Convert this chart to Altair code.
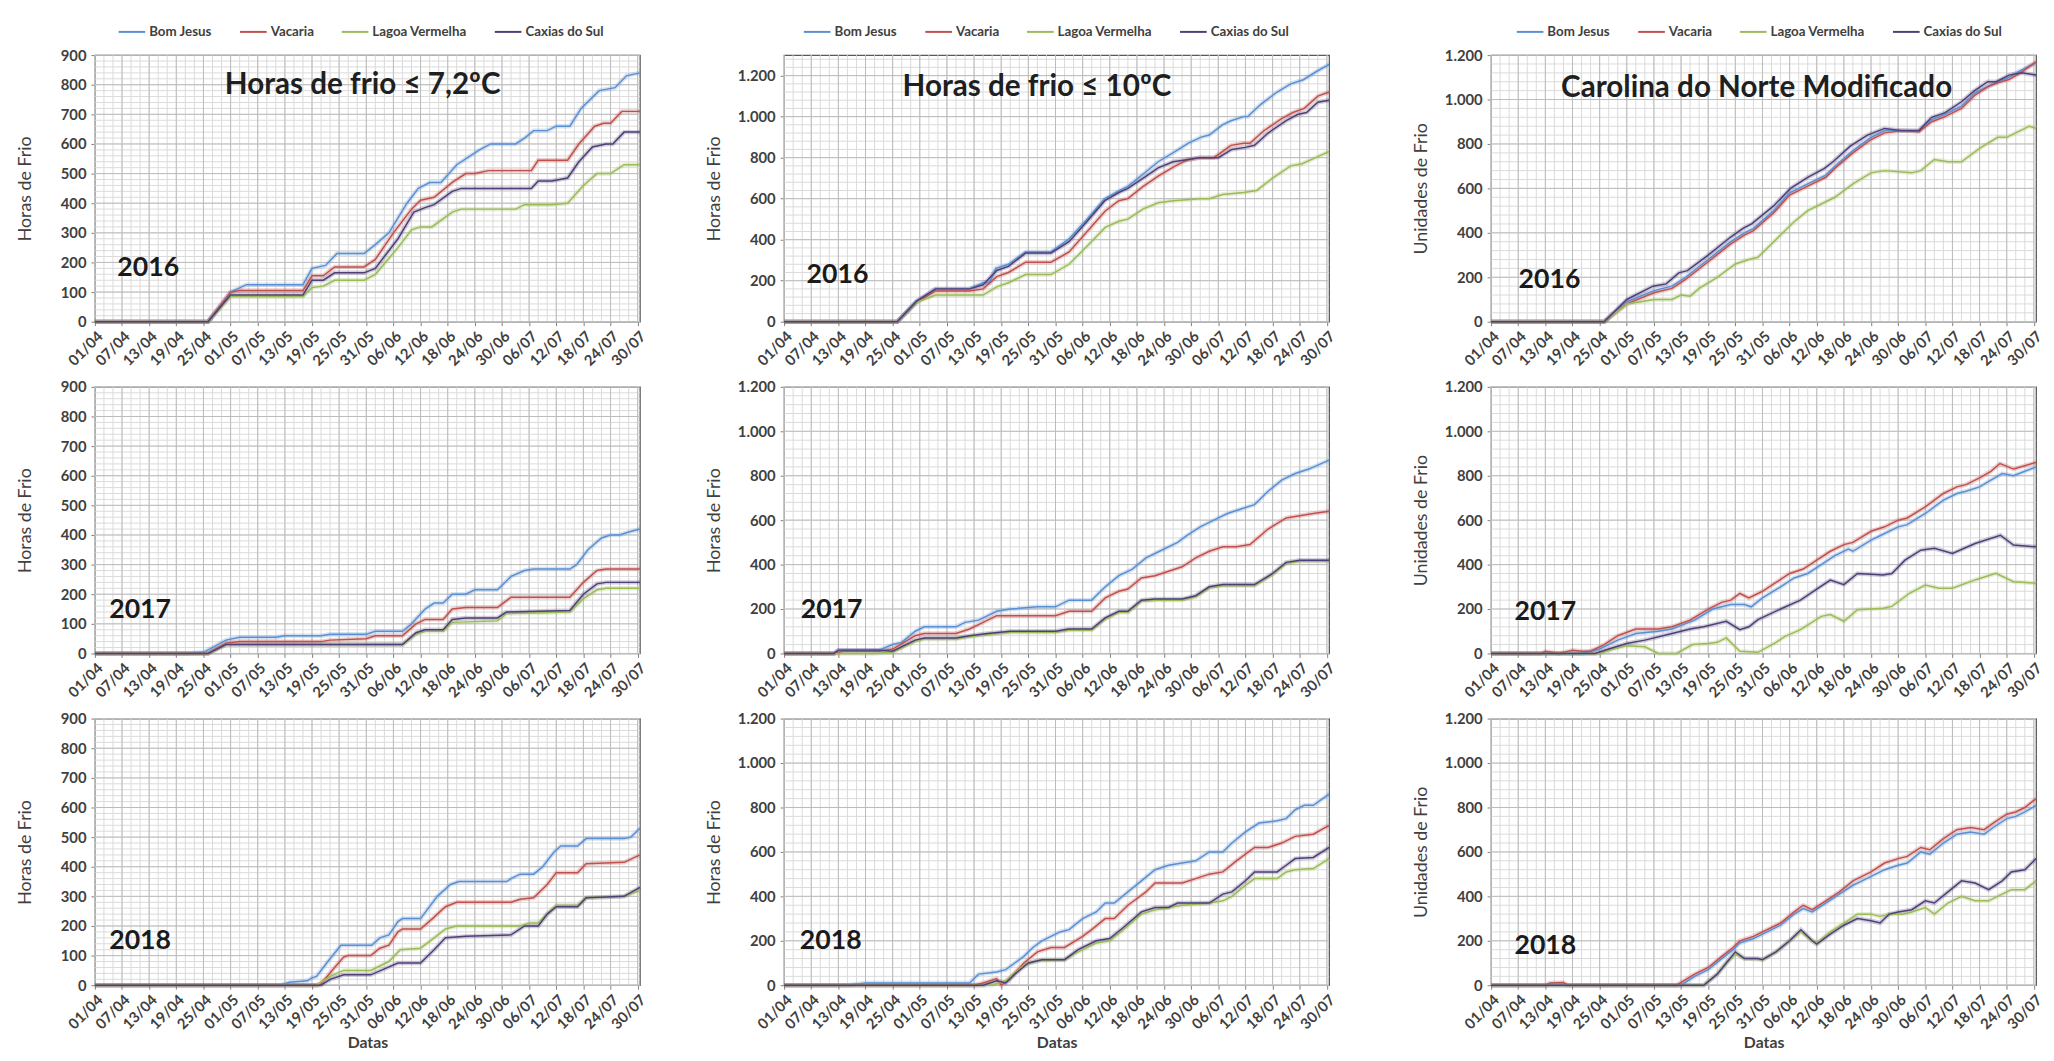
import altair as alt
import pandas as pd

SERIES = ["Bom Jesus", "Vacaria", "Lagoa Vermelha", "Caxias do Sul"]
COLORS = ["#5b8fd3", "#c0504d", "#9bbb59", "#4f3f78"]

TICK_DAYS = [0, 6, 12, 18, 24, 30, 36, 42, 48, 54, 60, 66, 72, 78, 84, 90, 96, 102, 108, 114, 120]
TICK_LABELS = ["01/04", "07/04", "13/04", "19/04", "25/04", "01/05", "07/05", "13/05", "19/05",
               "25/05", "31/05", "06/06", "12/06", "18/06", "24/06", "30/06", "06/07", "12/07",
               "18/07", "24/07", "30/07"]

# ---------------- 2016 : Horas de frio <= 7,2 C ----------------
H72_2016 = {
    "Bom Jesus": [(0, 0), (25, 0), (30, 100), (33.5, 125), (46, 125), (48, 180), (51, 190), (53.5, 230), (59.5, 230),
                  (62, 260), (65, 300), (69, 400), (71.5, 450), (74, 470), (76.5, 470), (80, 530), (83, 560), (85, 580),
                  (87.5, 600), (93, 600), (95, 620), (97, 645), (100, 645), (102, 660), (105, 660), (107.5, 720),
                  (111.5, 780), (115, 790), (117.5, 830), (120.5, 840)],
    "Vacaria": [(0, 0), (25, 0), (30, 100), (32, 105), (46, 105), (48, 155), (50.5, 155), (53, 185), (59.5, 185),
                (62, 210), (66, 300), (70, 380), (72, 410), (75, 420), (79, 470), (82, 500), (84, 500), (87, 510),
                (96.5, 510), (98, 545), (104.5, 545), (107, 600), (110.5, 660), (112.5, 670), (114, 670), (116.5, 710),
                (120.5, 710)],
    "Lagoa Vermelha": [(0, 0), (25, 0), (30, 85), (46, 85), (48, 115), (50.5, 120), (53, 140), (59.5, 140), (62, 160),
                       (67, 250), (70, 310), (72, 320), (74.5, 320), (79, 370), (81, 380), (93, 380), (95, 395),
                       (101, 395), (104.5, 400), (108, 460), (111, 500), (114, 500), (117, 530), (120.5, 530)],
    "Caxias do Sul": [(0, 0), (25, 0), (30, 90), (46, 90), (48, 140), (50.5, 140), (53, 165), (59.5, 165), (62, 180),
                      (67, 280), (70.5, 370), (73, 385), (75, 395), (79, 440), (81, 450), (96.5, 450), (98, 475),
                      (101, 475), (104.5, 485), (107, 540), (110, 590), (113, 600), (114.5, 600), (117, 640),
                      (120.5, 640)],
}

# ---------------- 2016 : Horas de frio <= 10 C ----------------
H10_2016 = {
    "Bom Jesus": [(0, 0), (25, 0), (29.3, 100), (33.5, 160), (41, 160), (44, 190), (45.4, 190), (46.8, 260),
                  (49.6, 280), (53.4, 340), (59, 340), (62.8, 400), (67, 500), (70.9, 600), (74.2, 640), (76, 660),
                  (79.4, 720), (82.7, 780), (86.5, 830), (89.3, 870), (92.2, 900), (94, 910), (96.9, 960),
                  (98.8, 980), (101.6, 1000), (102.5, 1000), (105.4, 1060), (109, 1120), (112, 1160), (114.8, 1180),
                  (117.7, 1220), (120.5, 1255)],
    "Vacaria": [(0, 0), (25, 0), (29.3, 95), (33.5, 150), (41, 150), (44, 160), (47, 220), (49.6, 240), (53.4, 290),
                (59, 290), (63, 340), (67, 440), (71, 540), (74, 590), (76, 600), (79.4, 660), (82.7, 710),
                (86.5, 760), (89.3, 790), (92, 800), (95, 800), (98.8, 860), (101.6, 870), (103, 870), (106, 930),
                (110, 990), (112.5, 1020), (115, 1040), (118, 1100), (120.5, 1120)],
    "Lagoa Vermelha": [(0, 0), (25, 0), (29.3, 95), (33.5, 130), (44, 130), (47, 170), (49.6, 190), (53.4, 230),
                       (59, 230), (63, 280), (67.5, 380), (71, 460), (74, 490), (76, 500), (79.4, 550), (82.7, 580),
                       (86, 590), (92, 600), (94, 600), (96.9, 620), (101.6, 630), (104.5, 640), (108, 700),
                       (112, 760), (114.5, 770), (117.5, 800), (120.5, 830)],
    "Caxias do Sul": [(0, 0), (25, 0), (29.3, 100), (33.5, 160), (41, 160), (44, 180), (47, 250), (49.6, 270),
                      (53.4, 335), (59, 335), (63, 390), (67, 490), (70.9, 590), (74, 630), (76, 650), (79.4, 700),
                      (82.7, 750), (86, 780), (89, 790), (92, 800), (96, 800), (99, 840), (102, 850), (104, 860),
                      (107, 920), (111, 980), (113.5, 1010), (115.5, 1020), (118, 1070), (120.5, 1080)],
}

# ---------------- 2016 : Carolina do Norte Modificado ----------------
CNM_2016 = {
    "Bom Jesus": [(0, 0), (25, 0), (30, 90), (36, 140), (40, 160), (43, 200), (48, 280), (53, 360), (56, 400),
                  (58, 420), (62.5, 500), (66, 580), (70, 620), (74, 660), (76, 700), (80, 770), (84, 830), (87, 860),
                  (91, 860), (94.6, 860), (97.4, 910), (100, 930), (104, 970), (107, 1030), (110, 1060), (112, 1080),
                  (114.5, 1100), (117, 1130), (120.5, 1165)],
    "Vacaria": [(0, 0), (25, 0), (30, 80), (36, 130), (40, 150), (43, 190), (48, 270), (53, 350), (56, 390),
                (58, 410), (62.5, 490), (66, 570), (70, 610), (74, 650), (76, 690), (80, 760), (84, 820), (87, 850),
                (91, 860), (94.6, 855), (97.4, 900), (100, 920), (104, 960), (107, 1020), (110, 1060), (112, 1075),
                (114.5, 1090), (117, 1120), (120.5, 1170)],
    "Lagoa Vermelha": [(0, 0), (25, 0), (30, 80), (36, 100), (40, 100), (42, 120), (44, 115), (46, 150), (50, 200),
                       (54, 260), (57, 280), (59, 290), (62, 350), (67, 450), (70, 500), (74, 540), (76, 560),
                       (80, 620), (84, 670), (87, 680), (93, 670), (95, 680), (98, 730), (101, 720), (104, 720),
                       (108, 780), (112, 830), (114, 830), (117, 860), (119, 880), (120.5, 870)],
    "Caxias do Sul": [(0, 0), (25, 0), (30, 100), (35.8, 160), (38.7, 170), (41.5, 220), (43.4, 230), (48, 300),
                      (52.9, 380), (55.7, 420), (57.6, 440), (62.4, 520), (66.2, 600), (70, 650), (73.7, 690),
                      (75.6, 720), (79.4, 790), (83.2, 840), (87, 870), (90.8, 860), (94.6, 860), (97.4, 920),
                      (100.3, 940), (104, 990), (106.9, 1040), (109.8, 1080), (111.7, 1080), (114.5, 1110),
                      (117.3, 1120), (120.5, 1110)],
}

# ---------------- 2017 : Horas de frio <= 7,2 C ----------------
H72_2017 = {
    "Bom Jesus": [(0, 0), (20, 0), (24, 4), (29, 45), (32, 55), (40, 55), (42, 60), (50, 60), (52, 65), (60, 65),
                  (62, 75), (68, 75), (70, 100), (73, 150), (75, 170), (77, 170), (79, 200), (82, 200), (84, 215),
                  (89, 215), (92, 260), (95, 280), (97, 285), (105, 285), (106.5, 300), (109, 350), (112, 390),
                  (114, 400), (116, 400), (118, 410), (120.5, 420)],
    "Vacaria": [(0, 0), (25, 0), (29, 35), (32, 40), (50, 40), (52, 45), (60, 50), (62, 60), (68, 60), (71, 100),
                (73, 115), (77, 115), (79, 150), (82, 155), (89, 155), (92, 190), (105, 190), (108, 240), (111, 280),
                (113, 285), (120.5, 285)],
    "Lagoa Vermelha": [(0, 0), (25, 0), (29, 30), (68, 30), (71, 65), (73, 75), (77, 75), (79, 105), (89, 110),
                       (91, 135), (105, 140), (108, 185), (111, 215), (113, 220), (120.5, 220)],
    "Caxias do Sul": [(0, 0), (25, 0), (29, 30), (68, 30), (71, 70), (73, 80), (77, 80), (79, 115), (82, 120),
                      (89, 120), (91, 140), (105, 145), (108, 200), (111, 235), (113, 240), (120.5, 240)],
}

# ---------------- 2017 : Horas de frio <= 10 C ----------------
H10_2017 = {
    "Bom Jesus": [(0, 0), (11, 0), (12, 15), (21, 15), (24, 40), (26, 50), (29, 100), (31, 120), (38, 120), (40, 140),
                  (43, 150), (47, 190), (50, 200), (56, 210), (60, 210), (63, 240), (68, 240), (71, 300), (74, 350),
                  (77, 380), (80, 430), (83, 460), (87, 500), (89, 530), (92, 570), (95, 600), (98, 630), (101, 650),
                  (104, 670), (107, 730), (110, 780), (113, 810), (116, 830), (120.5, 870)],
    "Vacaria": [(0, 0), (11, 0), (13, 10), (21, 10), (24, 20), (29, 80), (31, 90), (38, 90), (41, 110), (44, 140),
                (47, 170), (60, 170), (63, 190), (68, 190), (71, 250), (74, 280), (76, 290), (79, 340), (82, 350),
                (85, 370), (88, 390), (91, 430), (94, 460), (97, 480), (100, 480), (103, 490), (107, 560), (111, 610),
                (114, 620), (117, 630), (120.5, 640)],
    "Lagoa Vermelha": [(0, 0), (20, 0), (24, 5), (29, 55), (31, 65), (38, 65), (41, 75), (45, 85), (50, 95), (60, 95),
                       (63, 105), (68, 105), (71, 155), (74, 185), (76, 185), (79, 235), (82, 240), (88, 240),
                       (91, 255), (94, 295), (97, 305), (104, 305), (108, 355), (111, 405), (114, 415), (120.5, 415)],
    "Caxias do Sul": [(0, 0), (11, 0), (12, 15), (21, 15), (24, 10), (29, 60), (31, 70), (38, 70), (41, 80),
                      (45, 90), (50, 100), (60, 100), (63, 110), (68, 110), (71, 160), (74, 190), (76, 190), (79, 240),
                      (82, 245), (88, 245), (91, 260), (94, 300), (97, 310), (104, 310), (108, 360), (111, 410),
                      (114, 420), (120.5, 420)],
}

# ---------------- 2017 : Carolina do Norte Modificado ----------------
CNM_2017 = {
    "Bom Jesus": [(0, 0), (20, 0), (24, 20), (28, 60), (32, 90), (37, 100), (40, 110), (45, 150), (49, 200), (53, 220),
                  (56, 220), (57.5, 210), (60, 250), (64, 300), (67, 340), (70, 360), (73, 400), (76, 440), (79, 470),
                  (80, 460), (84, 510), (87, 540), (90, 570), (92, 580), (96, 630), (100, 690), (103, 720), (105, 730),
                  (108, 750), (110.5, 780), (113, 810), (115.5, 800), (118, 820), (120.5, 840)],
    "Vacaria": [(0, 0), (11, 0), (12, 10), (15, 0), (18, 15), (20, 10), (22, 10), (25, 40), (28, 80), (32, 110),
                (37, 110), (40, 120), (44, 150), (48, 200), (51, 230), (53, 240), (55, 270), (57, 250), (60, 280),
                (63, 320), (66, 360), (69, 380), (72, 420), (75, 460), (78, 490), (80, 500), (84, 550), (87, 570),
                (90, 600), (92, 610), (96, 660), (100, 720), (103, 750), (105, 760), (108, 790), (110.5, 820),
                (112.5, 855), (115.5, 830), (118, 845), (120.5, 860)],
    "Lagoa Vermelha": [(0, 0), (24, 0), (27, 20), (30, 35), (34, 30), (37, 0), (41, 0), (44.5, 40), (48, 45),
                       (50, 50), (52, 70), (55, 10), (59, 5), (63, 50), (65, 77), (68.4, 107), (73, 167), (75, 175),
                       (78, 145), (81, 197), (86.7, 204), (88.6, 212), (92.5, 271), (96, 308), (99, 294), (102, 294),
                       (107, 331), (111.6, 361), (115.5, 323), (120.5, 316)],
    "Caxias do Sul": [(0, 0), (23, 0), (26, 20), (30, 45), (34, 60), (40, 90), (44, 110), (47, 120), (52, 145),
                      (55, 107), (57, 120), (59, 152), (64, 200), (68.4, 240), (72, 290), (75, 330), (78, 310),
                      (81, 360), (86.7, 353), (88.6, 360), (91.5, 420), (95, 465), (98, 473), (102, 450), (107, 495),
                      (112.6, 532), (115.5, 488), (120.5, 480)],
}

# ---------------- 2018 : Horas de frio <= 7,2 C ----------------
H72_2018 = {
    "Bom Jesus": [(0, 0), (41, 0), (43, 10), (47, 15), (48, 25), (49, 30), (51.5, 80), (54.4, 135), (61.2, 135),
                  (63, 160), (65, 170), (67, 215), (68, 225), (72, 225), (75.7, 300), (78.6, 340), (80.5, 350),
                  (91, 350), (92, 360), (94, 375), (97, 375), (99, 400), (101.5, 450), (103, 470), (106.7, 470),
                  (108.6, 495), (117, 495), (118.5, 500), (120.5, 530)],
    "Vacaria": [(0, 0), (49, 0), (50, 5), (53, 60), (55, 95), (56, 100), (61, 100), (63, 125), (65, 135), (67, 180),
                (68, 190), (72, 190), (75, 230), (77.5, 265), (80, 280), (92, 280), (94, 290), (97, 295), (100, 340),
                (102, 380), (106.7, 380), (108.6, 410), (117, 415), (120.5, 440)],
    "Lagoa Vermelha": [(0, 0), (49, 0), (52, 30), (55, 50), (61, 50), (63, 65), (65, 80), (67.5, 120), (72, 125),
                       (75, 160), (77.5, 190), (80, 200), (94, 200), (96, 210), (98, 210), (100, 240), (102, 270),
                       (106.7, 270), (108.6, 295), (117, 300), (120.5, 320)],
    "Caxias do Sul": [(0, 0), (50, 0), (52, 20), (55, 35), (61, 35), (64, 55), (67, 75), (72, 75), (75, 120),
                      (77.5, 160), (82, 165), (92, 170), (95, 200), (98, 200), (100, 240), (102, 265), (106.7, 265),
                      (108.6, 295), (117, 300), (120.5, 330)],
}

# ---------------- 2018 : Horas de frio <= 10 C ----------------
H10_2018 = {
    "Bom Jesus": [(0, 0), (14, 0), (18, 10), (41, 10), (42, 30), (43, 50), (47, 60), (49, 70), (53, 130), (55, 170),
                  (57, 200), (59, 220), (61, 240), (63, 250), (66, 300), (69, 330), (71, 370), (73, 370), (76, 420),
                  (79, 470), (82, 520), (85, 540), (88, 550), (91, 560), (94, 600), (97, 600), (99, 640), (102, 690),
                  (105, 730), (109, 740), (111, 750), (113, 790), (115, 810), (117, 810), (120.5, 860)],
    "Vacaria": [(0, 0), (42, 0), (44, 10), (47, 30), (48, 0), (50, 30), (53, 100), (56, 150), (59, 170), (62, 170),
                (66, 220), (68, 250), (71, 300), (73, 300), (76, 360), (80, 420), (82, 460), (88, 460), (91, 480),
                (94, 500), (97, 510), (100, 560), (104, 620), (107, 620), (110, 640), (113, 670), (117, 680),
                (120.5, 720)],
    "Lagoa Vermelha": [(0, 0), (46, 0), (49, 20), (53, 90), (56, 110), (62, 115), (65, 150), (69, 190), (72, 200),
                       (75, 250), (79, 320), (82, 340), (85, 350), (88, 360), (94, 370), (97, 380), (99, 400),
                       (102, 450), (104, 480), (109, 480), (111, 510), (113, 520), (117, 525), (120.5, 570)],
    "Caxias do Sul": [(0, 0), (44, 0), (47, 20), (49, 10), (51, 50), (54, 100), (57, 115), (62, 115), (65, 160),
                      (69, 200), (72, 210), (75, 260), (79, 330), (82, 350), (85, 350), (87, 370), (94, 370),
                      (97, 410), (99, 420), (102, 470), (104, 510), (109, 510), (111, 540), (113, 570), (117, 575),
                      (120.5, 620)],
}

# ---------------- 2018 : Carolina do Norte Modificado ----------------
CNM_2018 = {
    "Bom Jesus": [(0, 0), (42, 0), (45, 40), (48, 70), (51, 120), (53.5, 160), (55, 190), (58, 210), (60, 230),
                  (64, 270), (67, 320), (69, 345), (71, 330), (74, 370), (77, 410), (80, 450), (82, 470), (84, 490),
                  (87, 520), (90, 540), (92, 550), (95, 600), (97, 590), (100, 640), (103, 680), (106, 690),
                  (109, 680), (111, 710), (114, 750), (116, 760), (118, 780), (120.5, 810)],
    "Vacaria": [(0, 0), (12, 0), (13, 10), (16, 12), (17, 0), (41, 0), (45, 50), (48, 80), (51, 130), (53.5, 170),
                (55, 200), (58, 220), (60, 240), (64, 280), (67, 330), (69, 360), (71, 340), (74, 380), (77, 420),
                (80, 470), (82, 490), (84, 510), (87, 550), (90, 570), (92, 580), (95, 620), (97, 610), (100, 660),
                (103, 700), (106, 710), (109, 700), (111, 730), (114, 770), (116, 780), (118, 800), (120.5, 840)],
    "Lagoa Vermelha": [(0, 0), (47, 0), (50, 50), (52, 100), (54, 140), (56, 120), (60, 115), (63, 150), (66, 200),
                       (68.5, 240), (71, 200), (72, 190), (75, 240), (78, 280), (81, 320), (84, 320), (86, 310),
                       (88, 320), (91, 320), (93, 330), (96, 350), (98, 320), (101, 370), (104, 400), (107, 380),
                       (110, 380), (113, 410), (115, 430), (118, 430), (120.5, 470)],
    "Caxias do Sul": [(0, 0), (47, 0), (50, 50), (52, 100), (54, 150), (56, 120), (59, 120), (60, 115), (63, 150),
                      (66, 200), (68.5, 250), (71, 200), (72, 185), (75, 230), (78, 270), (81, 300), (84, 290),
                      (86, 280), (88, 320), (90, 330), (93, 340), (96, 380), (98, 370), (101, 420), (104, 470),
                      (107, 460), (110, 430), (113, 470), (115, 510), (118, 520), (120.5, 570)],
}

FONT = "Lato"
LABEL_EXPR = "[" + ",".join("'" + t + "'" for t in TICK_LABELS) + "][round(datum.value / 6)]"
PANEL_W = 552
PANEL_H = 270


def panel(data, ytop, ymajor, yminor, ytitle, year, year_pos, title=None, title_pos=None, title_size=30,
          legend_x=22, show_legend=False, bottom=False):
    rows = []
    for s in SERIES:
        for d, v in data[s]:
            rows.append({"day": d, "value": v, "serie": s})
    df = pd.DataFrame(rows)

    xscale = alt.Scale(domain=[0, 120.5], nice=False, zero=False)
    yscale = alt.Scale(domain=[0, ytop], nice=False)

    xaxis_kw = dict(values=TICK_DAYS, labelExpr=LABEL_EXPR, labelAngle=-45, labelAlign="right",
                    labelBaseline="top", labelPadding=3, tickSize=4, minExtent=46, maxExtent=46,
                    labelOverlap=False, titlePadding=4)
    ymajor_vals = list(range(0, ytop + 1, ymajor))
    yaxis = alt.Axis(values=ymajor_vals, labelExpr="replace(format(datum.value, ','), ',', '.')",
                     tickSize=4, labelPadding=5, minExtent=52, maxExtent=52, titlePadding=9)
    xenc = alt.X("day:Q", scale=xscale, axis=alt.Axis(**xaxis_kw), title=("Datas" if bottom else None))
    yenc = alt.Y("value:Q", scale=yscale, axis=yaxis, title=ytitle)

    gx_minor = pd.DataFrame({"day": list(range(0, 121, 2))})
    gx_major = pd.DataFrame({"day": TICK_DAYS})
    gy_minor = pd.DataFrame({"value": list(range(0, ytop + 1, yminor))})
    gy_major = pd.DataFrame({"value": ymajor_vals})

    layers = [
        alt.Chart(gx_minor).mark_rule(color="#dadada", strokeWidth=1).encode(x=xenc),
        alt.Chart(gy_minor).mark_rule(color="#dadada", strokeWidth=1).encode(y=yenc),
        alt.Chart(gx_major).mark_rule(color="#bcbcbc", strokeWidth=1).encode(x=xenc),
        alt.Chart(gy_major).mark_rule(color="#bcbcbc", strokeWidth=1).encode(y=yenc),
    ]

    if show_legend:
        leg = alt.Legend(orient="none", legendX=legend_x, legendY=-38, direction="horizontal", title=None,
                         symbolType="stroke", symbolSize=729, symbolStrokeWidth=2, symbolOpacity=1,
                         labelFont=FONT, labelFontSize=13.5, labelFontWeight="bold", labelColor="#404040",
                         columnPadding=24, labelOffset=3, columns=4)
    else:
        leg = None
    color = alt.Color("serie:N", scale=alt.Scale(domain=SERIES, range=COLORS), legend=leg, sort=SERIES)

    layers.append(alt.Chart(df).mark_line(strokeWidth=4.5, opacity=0.25).encode(
        x=xenc, y=yenc, color=color, order="day:Q"))
    layers.append(alt.Chart(df).mark_line(strokeWidth=1.5).encode(
        x=xenc, y=yenc, color=color, order="day:Q"))

    ydf = pd.DataFrame({"day": [year_pos[0]], "value": [year_pos[1]], "t": [year]})
    layers.append(alt.Chart(ydf).mark_text(font=FONT, fontSize=27, fontWeight="bold", color="#1a1a1a",
                                           align="center", baseline="middle").encode(x=xenc, y=yenc, text="t:N"))
    if title is not None:
        tdf = pd.DataFrame({"day": [title_pos[0]], "value": [title_pos[1]], "t": [title]})
        layers.append(alt.Chart(tdf).mark_text(font=FONT, fontSize=title_size, fontWeight="bold", color="#1f1f1f",
                                               align="center", baseline="middle").encode(x=xenc, y=yenc, text="t:N"))

    return alt.layer(*layers).properties(width=PANEL_W, height=PANEL_H)


p11 = panel(H72_2016, 900, 100, 20, "Horas de Frio", "2016", (11.8, 180),
            "Horas de frio ≤ 7,2ºC", (59.2, 800), 30, legend_x=23, show_legend=True)
p12 = panel(H10_2016, 1300, 200, 40, "Horas de Frio", "2016", (11.8, 226),
            "Horas de frio ≤ 10ºC", (55.9, 1145), 30, legend_x=19, show_legend=True)
p13 = panel(CNM_2016, 1200, 200, 40, "Unidades de Frio", "2016", (12.9, 187),
            "Carolina do Norte Modificado", (58.7, 1050), 30, legend_x=25, show_legend=True)

p21 = panel(H72_2017, 900, 100, 20, "Horas de Frio", "2017", (10, 147))
p22 = panel(H10_2017, 1200, 200, 40, "Horas de Frio", "2017", (10.5, 196))
p23 = panel(CNM_2017, 1200, 200, 40, "Unidades de Frio", "2017", (12, 187))

p31 = panel(H72_2018, 900, 100, 20, "Horas de Frio", "2018", (10, 150), bottom=True)
p32 = panel(H10_2018, 1200, 200, 40, "Horas de Frio", "2018", (10.3, 200), bottom=True)
p33 = panel(CNM_2018, 1200, 200, 40, "Unidades de Frio", "2018", (12, 178), bottom=True)


def row(a, b, c):
    inner = alt.hconcat(a, b, spacing=56).resolve_scale(color="independent").resolve_legend(color="independent")
    return alt.hconcat(inner, c, spacing=74).resolve_scale(color="independent").resolve_legend(color="independent")


chart = alt.vconcat(row(p11, p12, p13), row(p21, p22, p23), row(p31, p32, p33), spacing=10)
chart = chart.resolve_scale(color="independent").resolve_legend(color="independent").properties(
    padding={"left": 8, "top": 2, "right": 0, "bottom": 0}, background="white"
).configure_view(stroke="#595959", strokeWidth=1.3).configure_axis(
    domain=False, grid=False, tickColor="#7f7f7f", labelFont=FONT, labelFontSize=15, labelFontWeight="bold",
    labelColor="#404040", titleFont=FONT, titleFontSize=18, titleFontWeight="normal", titleColor="#404040"
).configure_axisX(titleFontSize=16, titleFontWeight="bold")

chart.save("out.html", embed_options={"renderer": "svg", "actions": False})
